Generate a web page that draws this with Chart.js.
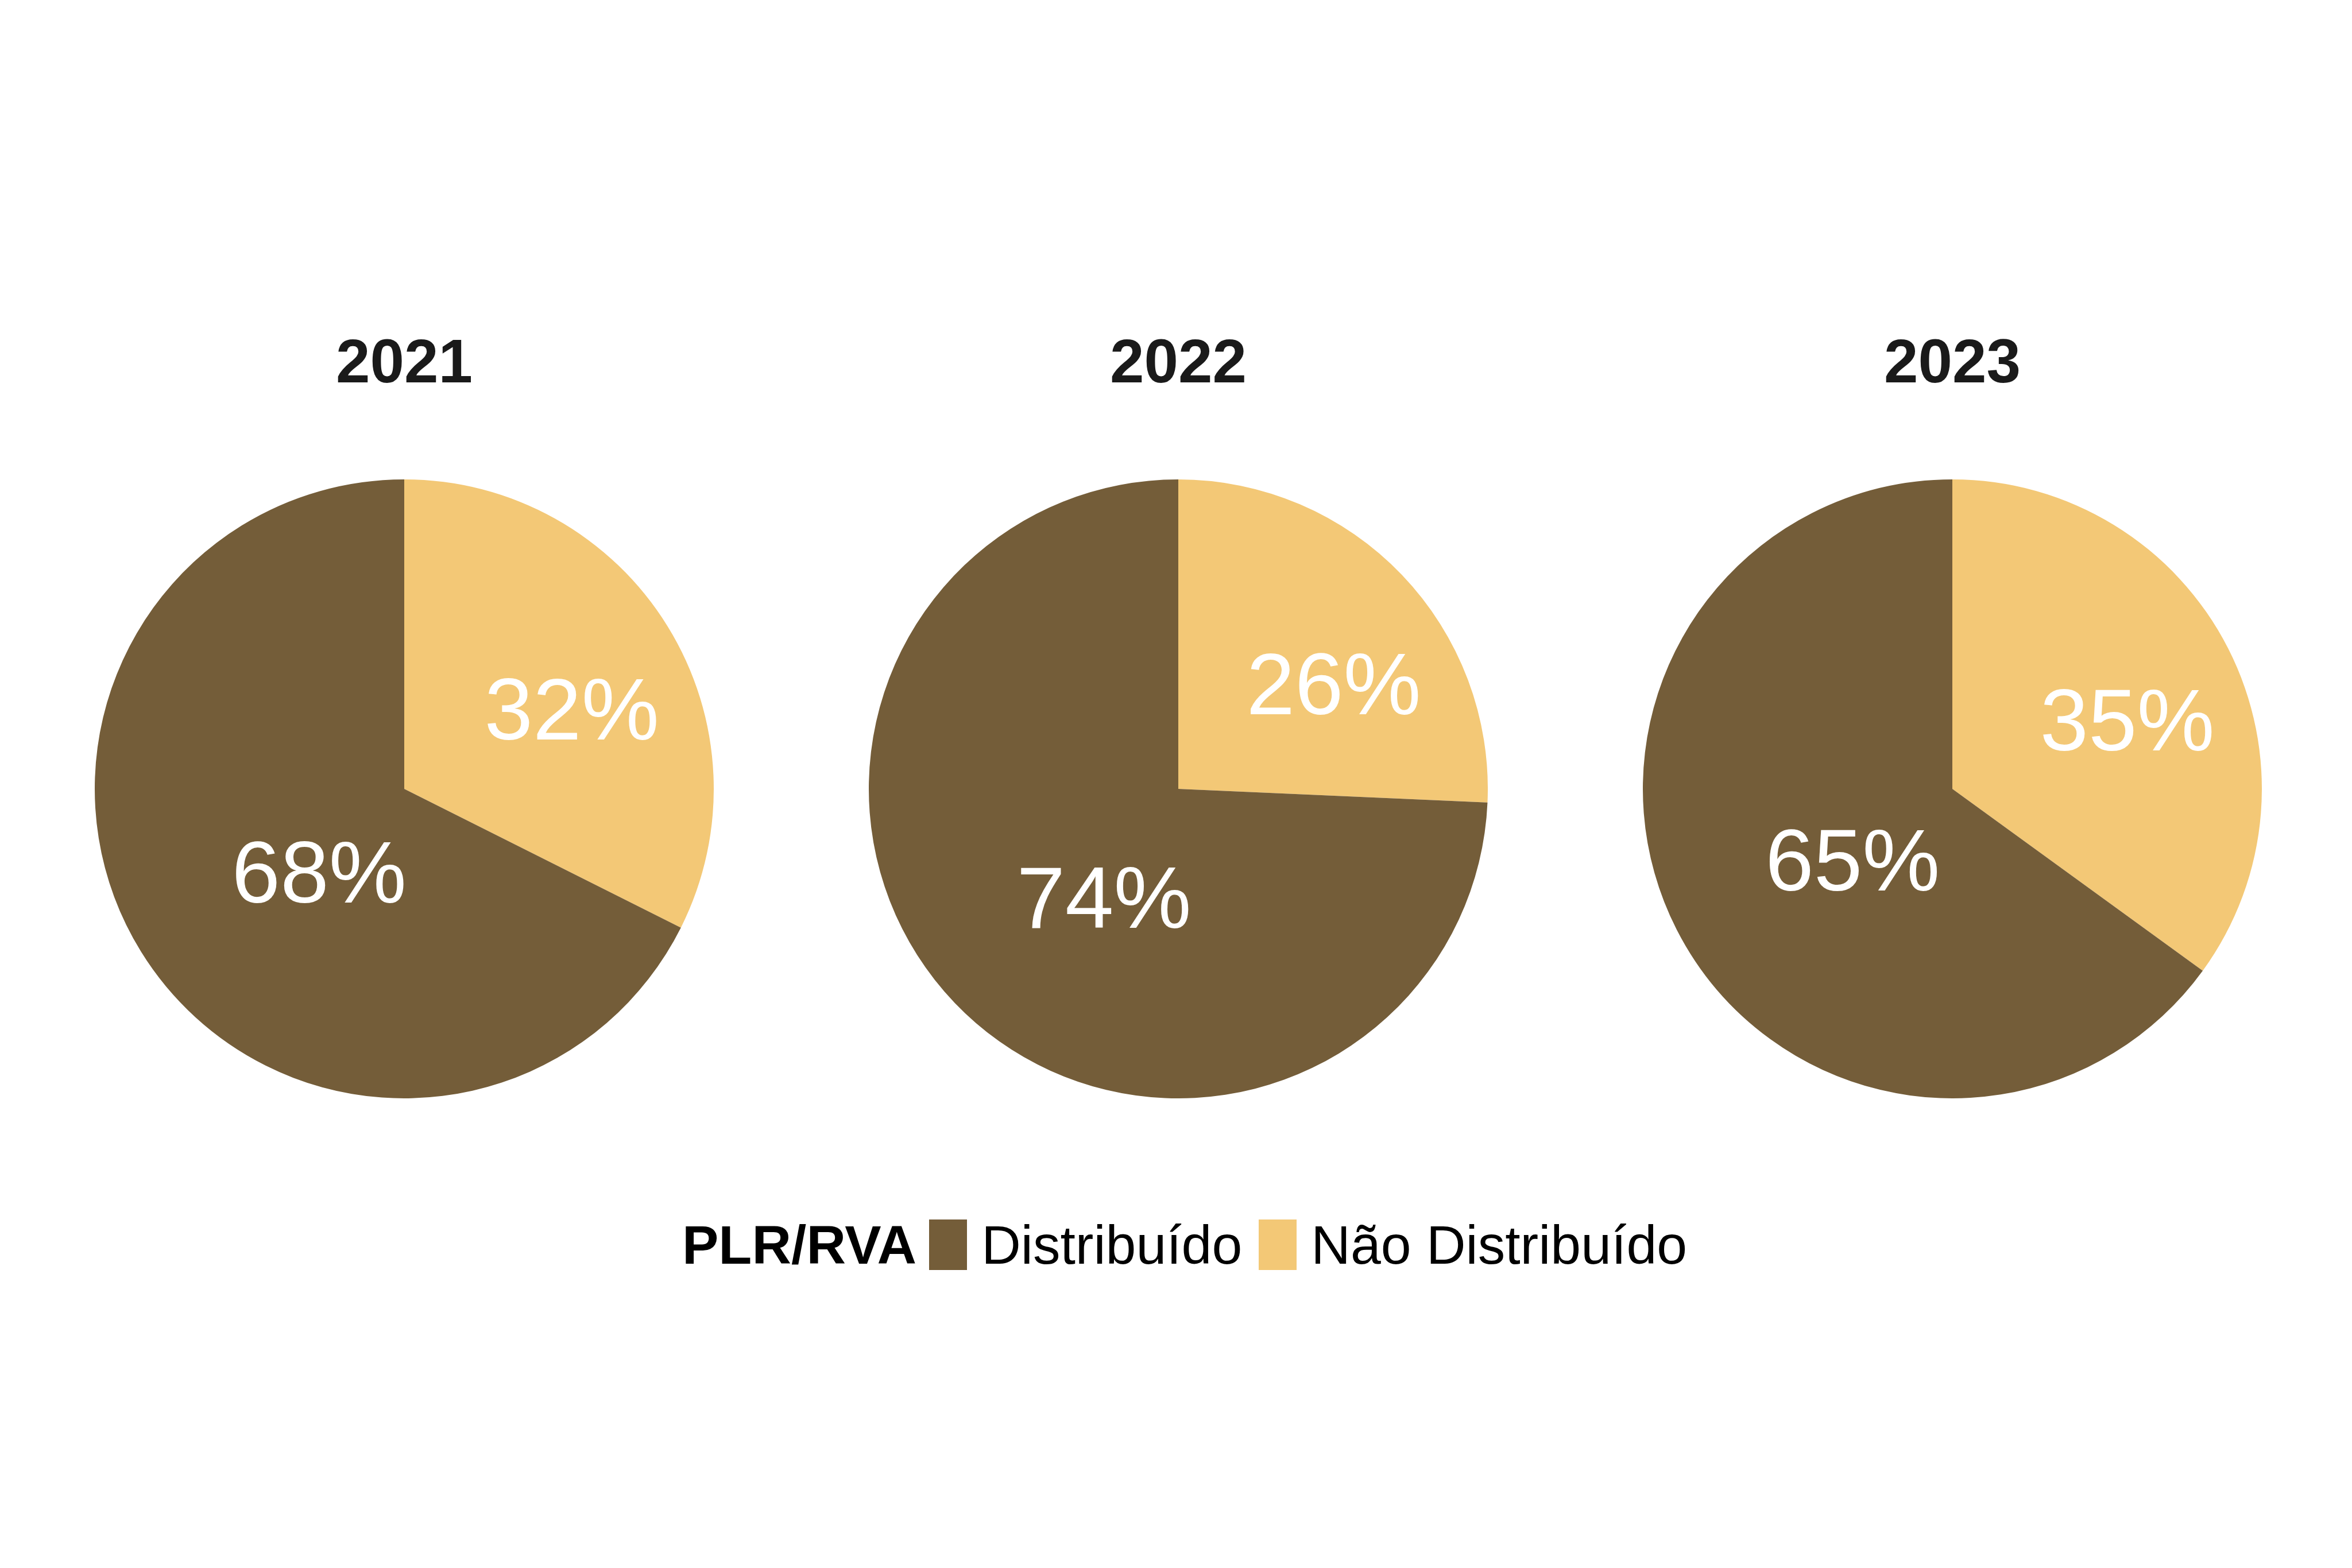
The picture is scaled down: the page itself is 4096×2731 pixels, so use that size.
<!DOCTYPE html>
<html>
<head>
<meta charset="utf-8">
<script src="https://cdn.jsdelivr.net/npm/chart.js@4/dist/chart.umd.min.js"></script>
<style>
  html, body { margin: 0; padding: 0; background: #ffffff; }
  #wrap { position: relative; width: 4096px; height: 2731px; background: #ffffff; overflow: hidden; }
  canvas.pie { position: absolute; }
  #legend { position: absolute; left: 1188px; top: 2124px; height: 88px; display: flex; align-items: center;
            font-family: "Liberation Sans", Arial, Helvetica, sans-serif; font-size: 95px; color: #000; white-space: nowrap; }
  #legend .ttl { font-weight: bold; margin-right: 22px; }
  #legend .box { width: 66px; height: 88px; display: inline-block; }
  #legend .lbl { margin-left: 25px; margin-right: 29px; }
</style>
</head>
<body>
<div id="wrap">
  <canvas id="c0" class="pie"></canvas>
  <canvas id="c1" class="pie"></canvas>
  <canvas id="c2" class="pie"></canvas>
  <div id="legend"></div>
</div>
<script>
// ---- data ----
const years = ['2021', '2022', '2023'];
const categories = ['Não Distribuído', 'Distribuído'];
const naoDistribuido = [32.4, 25.7, 35.0];
const distribuido = [67.6, 74.3, 65.0];
const legendTitle = 'PLR/RVA';
const legendOrder = ['Distribuído', 'Não Distribuído'];

// ---- style ----
const colors = { 'Distribuído': '#745D39', 'Não Distribuído': '#F3C876' };
const pieCentersX = [704, 2052, 3400];
const R = 539;
// label placement along each slice (radius fraction, angle shift in degrees)
const labelStyle = [
  [{ f: 0.601, d: 5.9 }, { f: 0.383, d: -12.4 }],
  [{ f: 0.608, d: 9.4 }, { f: 0.422, d: -11.6 }],
  [{ f: 0.608, d: 5.3 }, { f: 0.395, d: -8.3 }]
];
const FONT = '"Liberation Sans", Arial, Helvetica, sans-serif';

const labelPlugin = {
  id: 'sliceLabels',
  afterDatasetsDraw(chart) {
    const ctx = chart.ctx;
    const meta = chart.getDatasetMeta(0);
    const ds = chart.data.datasets[0];
    const st = chart.options.plugins.sliceLabels.style;
    const fs = 152;
    ctx.save();
    ctx.fillStyle = '#ffffff';
    ctx.font = fs + 'px ' + FONT;
    ctx.textAlign = 'center';
    ctx.textBaseline = 'alphabetic';
    meta.data.forEach((arc, i) => {
      const p = arc.getProps(['x', 'y', 'startAngle', 'endAngle', 'outerRadius'], true);
      const mid = (p.startAngle + p.endAngle) / 2 + st[i].d * Math.PI / 180;
      const r = p.outerRadius * st[i].f;
      const px = p.x + Math.cos(mid) * r;
      const py = p.y + Math.sin(mid) * r;
      ctx.fillText(Math.round(ds.data[i]) + '%', px, py + 0.358 * fs);
    });
    ctx.restore();
  }
};

const canvasTop = 572;
const canvasH = 1341;
years.forEach((yr, k) => {
  const cv = document.getElementById('c' + k);
  cv.width = 2 * R; cv.height = canvasH;
  cv.style.width = (2 * R) + 'px'; cv.style.height = canvasH + 'px';
  cv.style.left = (pieCentersX[k] - R) + 'px';
  cv.style.top = canvasTop + 'px';
  new Chart(cv, {
    type: 'pie',
    data: {
      labels: categories,
      datasets: [{
        data: [naoDistribuido[k], distribuido[k]],
        backgroundColor: categories.map(c => colors[c]),
        borderWidth: 0
      }]
    },
    options: {
      responsive: false,
      animation: false,
      devicePixelRatio: 1,
      layout: { padding: 0 },
      plugins: {
        legend: { display: false },
        tooltip: { enabled: false },
        title: {
          display: true, text: yr, color: '#1A1A1A',
          font: { family: FONT, size: 107, weight: 'bold', lineHeight: 1.2 },
          padding: { top: 0, bottom: 134.6 }
        },
        sliceLabels: { style: labelStyle[k] }
      }
    },
    plugins: [labelPlugin]
  });
});

// legend
const lg = document.getElementById('legend');
const t = document.createElement('span'); t.className = 'ttl'; t.textContent = legendTitle; lg.appendChild(t);
legendOrder.forEach((name) => {
  const b = document.createElement('span'); b.className = 'box'; b.style.background = colors[name]; lg.appendChild(b);
  const l = document.createElement('span'); l.className = 'lbl'; l.textContent = name; lg.appendChild(l);
});
</script>
</body>
</html>
